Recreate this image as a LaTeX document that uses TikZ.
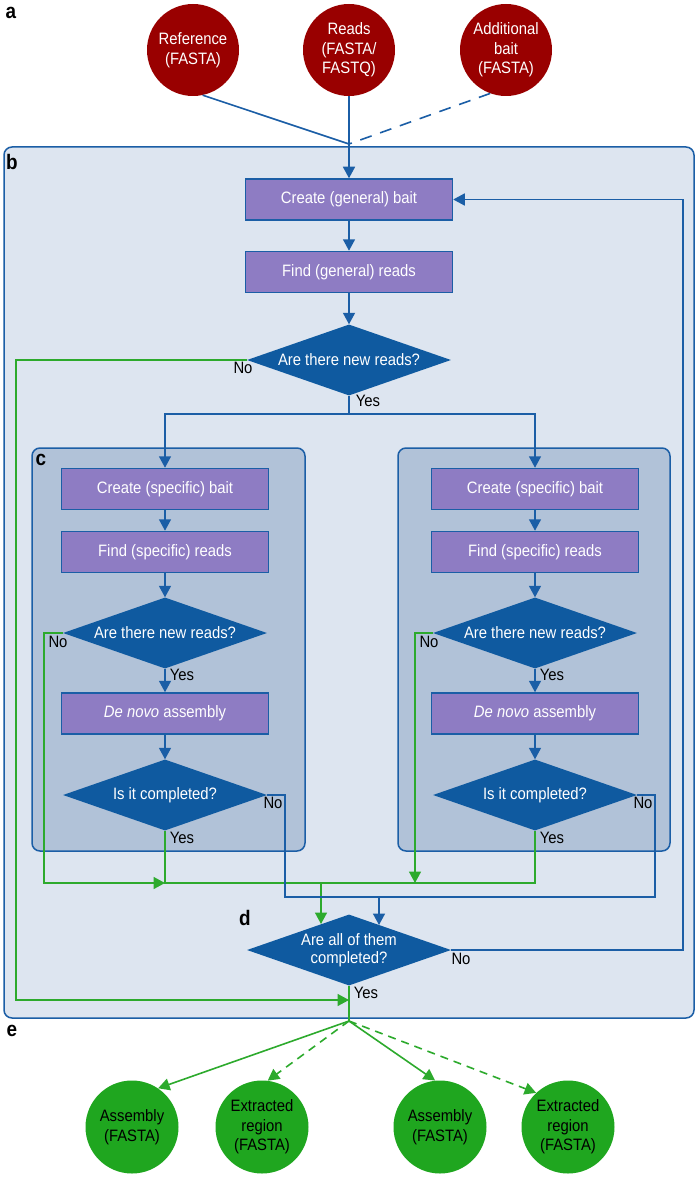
\documentclass[tikz,border=0pt]{standalone}
\usepackage{fontspec}
\setmainfont[FakeStretch=0.9]{Liberation Sans}
\usetikzlibrary{shapes.geometric,arrows.meta}
\definecolor{fblue}{HTML}{0F5AA0}
\definecolor{lblue}{HTML}{1B5EA6}
\definecolor{bpurple}{HTML}{8E7CC3}
\definecolor{outerfill}{HTML}{DDE5F0}
\definecolor{innerfill}{HTML}{B1C2D8}
\definecolor{dred}{HTML}{990000}
\definecolor{dgreen}{HTML}{1FA61F}
\definecolor{lgreen}{HTML}{2DAA2D}
\begin{document}
\begin{tikzpicture}[x=1pt,y=-1pt,
  every node/.style={font=\fontsize{16.5}{19}\selectfont},
  proc/.style={rectangle, draw=lblue, line width=1.5pt, fill=bpurple, minimum width=207pt, minimum height=41pt, inner sep=0pt, text=white},
  dec/.style={diamond, fill=fblue, minimum width=204pt, minimum height=71pt, aspect=2.87, inner sep=0pt, text=white, align=center, font=\fontsize{16.5}{18.5}\selectfont},
  src/.style={circle, fill=dred, minimum size=92pt, inner sep=0pt, text=white, align=center, font=\fontsize{16.5}{19.5}\selectfont},
  res/.style={circle, fill=dgreen, minimum size=93pt, inner sep=0pt, text=black, align=center, font=\fontsize{16.5}{19.5}\selectfont},
  panel/.style={font=\fontsize{21}{21}\selectfont\bfseries, inner sep=0pt},
  ans/.style={text=black, inner sep=0pt},
  bl/.style={draw=lblue, line width=1.6pt},
  bln/.style={draw=lblue, line width=1.2pt},
  gl/.style={draw=lgreen, line width=1.6pt},
  box/.style={draw=lblue, line width=1.5pt, rounded corners=8pt},
  arr/.style={-{Triangle[length=11.5pt,width=12pt]}},
  dsh/.style={dash pattern=on 12pt off 9pt},
  dshg/.style={dash pattern=on 8pt off 6pt},
]
\useasboundingbox (0,0) rectangle (700,1177);
\fill[white] (0,0) rectangle (700,1177);
% panels
\draw[box, fill=outerfill] (4,147) rectangle (694,1018);
\draw[box, fill=innerfill] (32,448) rectangle (305,851);
\draw[box, fill=innerfill] (398,448) rectangle (670,851);

% inputs
\node[src] (ref) at (193,50) {Reference\\(FASTA)};
\node[src] (reads) at (349,50) {Reads\\(FASTA/\\FASTQ)};
\node[src] (addb) at (506,50) {Additional\\bait\\(FASTA)};
\coordinate (J) at (349,144);

% general loop
\node[proc] (cg) at (349,199.5) {Create (general) bait};
\node[proc] (fg) at (349,272) {Find (general) reads};
\node[dec] (d1) at (349,360) {Are there new reads?};

% left specific
\node[proc] (cs1) at (165,489) {Create (specific) bait};
\node[proc] (fs1) at (165,552) {Find (specific) reads};
\node[dec] (dd1) at (165,633) {Are there new reads?};
\node[proc] (dn1) at (165,713.5) {\textit{De novo} assembly};
\node[dec] (ic1) at (165,795) {Is it completed?};

% right specific
\node[proc] (cs2) at (535,489) {Create (specific) bait};
\node[proc] (fs2) at (535,552) {Find (specific) reads};
\node[dec] (dd2) at (535,633) {Are there new reads?};
\node[proc] (dn2) at (535,713.5) {\textit{De novo} assembly};
\node[dec] (ic2) at (535,795) {Is it completed?};

% final decision
\node[dec] (dall) at (349,950) {Are all of them\\completed?};

% outputs
\node[res] (a1) at (132,1127) {Assembly\\(FASTA)};
\node[res] (e1) at (262,1127) {Extracted\\region\\(FASTA)};
\node[res] (a2) at (440,1127) {Assembly\\(FASTA)};
\node[res] (e2) at (568,1127) {Extracted\\region\\(FASTA)};

% panel labels
\node[panel] (la) at (11,13) {a};
\node[panel] (lb) at (12,162) {b};
\node[panel] (lc) at (41,460) {c};
\node[panel] (ld) at (245,918) {d};
\node[panel] (le) at (12,1031) {e};

% answer labels
\node[ans] (d1no) at (243,368) {No};
\node[ans] (d1yes) at (368,401) {Yes};
\node[ans] (dd1no) at (58,642) {No};
\node[ans] (dd1yes) at (182,675) {Yes};
\node[ans] (dd2no) at (429,642) {No};
\node[ans] (dd2yes) at (552,675) {Yes};
\node[ans] (ic1no) at (273,803) {No};
\node[ans] (ic1yes) at (182,838) {Yes};
\node[ans] (ic2no) at (643,803) {No};
\node[ans] (ic2yes) at (552,838) {Yes};
\node[ans] (dallno) at (461,959) {No};
\node[ans] (dallyes) at (366,993) {Yes};

% coordinates for routing
\coordinate (br) at (349,414);
\coordinate (gL) at (16,1000);
\coordinate (gLend) at (349,1000);
\coordinate (gm1) at (44,883);
\coordinate (gm2) at (415,883);
\coordinate (gd) at (321,883);
\coordinate (gdend) at (321,924);
\coordinate (bL) at (285,897);
\coordinate (bR) at (655,897);
\coordinate (bd) at (379,897);
\coordinate (bdend) at (379,925);
\coordinate (fb) at (683,950);
\coordinate (J2) at (349,1021);

% input connectors
\draw[bl] (ref.-78) -- (J);
\draw[bl] (reads.south) -- (J);
\draw[bl, dsh] (addb.-110) -- (J);
\draw[bl, arr] (J) -- (cg.north);
\draw[bl, arr] (cg.south) -- (fg.north);
\draw[bl, arr] (fg.south) -- (d1.north);

% general no
\draw[gl, arr] (d1.west) -| (gL) -- (gLend);

% general yes
\draw[bl] (d1.south) -- (br);
\draw[bl, arr] (br) -| (cs1.north);
\draw[bl, arr] (br) -| (cs2.north);

% specific flows
\draw[bl, arr] (cs1.south) -- (fs1.north);
\draw[bl, arr] (fs1.south) -- (dd1.north);
\draw[bl, arr] (dd1.south) -- (dn1.north);
\draw[bl, arr] (dn1.south) -- (ic1.north);
\draw[bl, arr] (cs2.south) -- (fs2.north);
\draw[bl, arr] (fs2.south) -- (dd2.north);
\draw[bl, arr] (dd2.south) -- (dn2.north);
\draw[bl, arr] (dn2.south) -- (ic2.north);

% specific green merges
\draw[gl, arr] (dd1.west) -| (gm1) -- (ic1.south |- gm1);
\draw[gl] (ic1.south) -- (ic1.south |- gm1) -- (ic2.south |- gm1) -- (ic2.south);
\draw[gl, arr] (dd2.west) -| (gm2);
\draw[gl, arr] (gd) -- (gdend);

% specific blue no
\draw[bln] (ic1.east) -| (bL) -- (bR) |- (ic2.east);
\draw[bl, arr] (bd) -- (bdend);

% final no loop
\draw[bl, arr] (dall.east) -- (fb) |- (cg.east);

% final yes and outputs
\draw[gl] (dall.south) -- (J2);
\draw[gl, arr] (J2) -- (a1.56);
\draw[gl, arr, dshg] (J2) -- (e1.83);
\draw[gl, arr] (J2) -- (a2.96);
\draw[gl, arr, dshg] (J2) -- (e2.133);
\end{tikzpicture}
\end{document}
